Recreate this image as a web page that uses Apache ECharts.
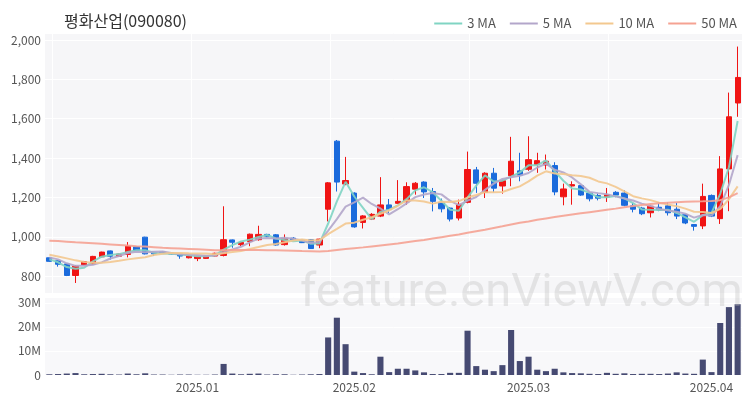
<!DOCTYPE html>
<html>
<head>
<meta charset="utf-8">
<script src="https://cdn.jsdelivr.net/npm/echarts@6/dist/echarts.min.js"></script>
<style>
html,body{margin:0;padding:0;background:#fff;}
#chart{width:750px;height:400px;}
</style>
</head>
<body>
<div id="chart"></div>
<script>
const dates = [
'2024-12-05','2024-12-06','2024-12-09','2024-12-10','2024-12-11','2024-12-12','2024-12-13','2024-12-16','2024-12-17','2024-12-18',
'2024-12-19','2024-12-20','2024-12-23','2024-12-24','2024-12-26','2024-12-27','2024-12-30',
'2025-01-02','2025-01-03','2025-01-06','2025-01-07','2025-01-08','2025-01-09','2025-01-10','2025-01-13','2025-01-14','2025-01-15',
'2025-01-16','2025-01-17','2025-01-20','2025-01-21','2025-01-22','2025-01-23','2025-01-24','2025-01-31',
'2025-02-03','2025-02-04','2025-02-05','2025-02-06','2025-02-07','2025-02-10','2025-02-11','2025-02-12','2025-02-13','2025-02-14',
'2025-02-17','2025-02-18','2025-02-19','2025-02-20','2025-02-21','2025-02-24','2025-02-25','2025-02-26','2025-02-27','2025-02-28',
'2025-03-03','2025-03-04','2025-03-05','2025-03-06','2025-03-07','2025-03-10','2025-03-11','2025-03-12','2025-03-13','2025-03-14',
'2025-03-17','2025-03-18','2025-03-19','2025-03-20','2025-03-21','2025-03-24','2025-03-25','2025-03-26','2025-03-27','2025-03-28','2025-03-31',
'2025-04-01','2025-04-02','2025-04-03','2025-04-04'
];
const opens = [893,878,862,803,857,862,898,928,901,910,950,998,921,922,918,913,893,889,890,902,
905,984,960,976,985,1012,1010,960,993,982,985,958,1140,1486,1268,1222,1073,1090,1105,1162,
1170,1178,1242,1278,1230,1175,1146,1095,1175,1340,1225,1323,1258,1310,1335,1343,1368,1365,1362,1203,
1258,1260,1222,1210,1202,1226,1222,1157,1146,1122,1150,1157,1140,1112,1062,1055,1210,1092,1345,1680];
const closes = [875,860,803,850,874,900,922,901,912,953,930,913,913,917,912,902,902,900,902,916,
985,972,971,1013,1012,1003,958,990,984,970,940,988,1274,1278,1286,1050,1106,1114,1162,1138,
1180,1255,1272,1228,1180,1142,1090,1165,1342,1272,1323,1247,1285,1384,1313,1392,1387,1384,1228,1243,
1265,1212,1193,1196,1213,1212,1160,1140,1117,1155,1136,1122,1105,1070,1053,1205,1105,1345,1610,1810];
const lows = [872,848,800,765,855,858,896,884,899,895,928,910,902,915,910,888,890,876,887,900,
900,944,952,952,980,998,955,955,980,968,938,942,1078,1230,1262,1046,1042,1085,1100,1121,
1168,1163,1214,1197,1129,1124,1078,1083,1170,1223,1197,1226,1219,1257,1282,1335,1325,1342,1211,1160,
1163,1208,1180,1185,1177,1201,1155,1124,1110,1098,1130,1108,1090,1064,1031,1039,1100,1065,1130,1610];
const highs = [895,880,864,855,877,903,924,930,914,973,953,1000,922,924,920,914,905,902,904,919,
1155,986,976,1016,1056,1015,1014,1012,998,984,987,990,1278,1492,1406,1226,1110,1120,1303,1192,
1288,1277,1278,1282,1248,1194,1150,1189,1433,1355,1328,1350,1290,1508,1427,1511,1427,1418,1379,1270,
1282,1262,1225,1220,1248,1232,1236,1172,1152,1160,1175,1175,1172,1115,1064,1270,1215,1410,1733,1967];
const volumesM = [0.3,0.4,0.6,0.8,0.3,0.4,0.5,0.3,0.2,0.6,0.3,0.7,0.2,0.2,0.1,0.2,0.2,0.1,0.1,0.2,
4.6,0.6,0.3,0.5,0.6,0.2,0.3,0.3,0.1,0.2,0.3,0.4,15.6,23.8,12.8,1.4,0.8,0.3,7.6,1.2,
2.6,2.6,1.9,1.1,0.4,0.4,0.9,0.9,18.4,3.7,2.2,1.6,4.1,18.7,5.8,7.6,2.2,1.6,2.6,1.1,
0.8,0.7,0.5,0.4,0.9,0.5,0.7,0.4,0.5,0.5,0.4,0.6,1.1,0.6,0.5,6.4,1.2,21.6,28.2,29.4];
// moving-average values before enough closes exist
const ma3Head = [885,870];
const ma5Head = [895,885,865,852];
const ma10Head = [908,900,890,880,872,868,868,872,878];
// 50-day MA
const ma50 = [980,978,975,972,970,967,964,961,958,955,952,950,947,944,942,940,938,936,934,931,
932,933,933,933,933,932,931,930,929,927,926,925,928,933,938,942,946,951,956,961,
966,972,978,984,991,998,1005,1012,1020,1028,1036,1045,1053,1062,1071,1078,1086,1093,1100,1107,
1113,1119,1125,1131,1137,1143,1150,1156,1161,1166,1170,1173,1176,1178,1179,1180,1182,1186,1200,1222];
const yTicksMain = [800,1000,1200,1400,1600,1800,2000];
const volTicks = ['0','10M','20M','30M'];

function movingAvg(n, head){
  return closes.map((c,i)=>{
    if(i < head.length) return head[i];
    let s = 0; for(let k=i-n+1;k<=i;k++) s += closes[k];
    return +(s/n).toFixed(1);
  });
}
const ma3 = movingAvg(3, ma3Head), ma5 = movingAvg(5, ma5Head), ma10 = movingAvg(10, ma10Head);
const candleData = dates.map((d,i)=>[opens[i],closes[i],lows[i],highs[i]]);
const volData = volumesM.map(v=>v*1e6);
function fmtNum(v){ return String(v).replace(/\B(?=(\d{3})+(?!\d))/g, ','); }

const FONT = '"Noto Sans CJK KR", "Noto Sans", sans-serif';
const chart = echarts.init(document.getElementById('chart'), null, {renderer:'canvas'});
const labelColor = '#555';
const option = {
  animation:false,
  backgroundColor:'#fff',
  textStyle:{fontFamily:FONT},
  title:{text:'평화산업(090080)', left:59, top:8, textStyle:{fontFamily:FONT, fontSize:16, fontWeight:'normal', color:'#333'}},
  legend:{
    right:8, top:12, itemWidth:28, itemHeight:2, itemGap:14, icon:'rect',
    textStyle:{fontFamily:FONT, fontSize:13, color:'#555'},
    data:['3 MA','5 MA','10 MA','50 MA']
  },
  graphic:[{
    type:'text', left:300, top:271, z:100, silent:true,
    style:{text:'feature.enViewV.com', font:'47px Roboto, sans-serif', fill:'rgba(185,185,185,0.33)'}
  }],
  grid:[
    {left:45, right:8, top:33, height:260, show:true, backgroundColor:'#f6f6f8', borderWidth:0},
    {left:45, right:8, top:297, height:78, show:true, backgroundColor:'#f8f8fa', borderWidth:0},
    {left:52, right:3, top:33, height:260}
  ],
  xAxis:[
    {type:'category', gridIndex:0, data:dates, boundaryGap:true, axisLine:{show:false}, axisTick:{show:false}, axisLabel:{show:false}, splitLine:{show:false}},
    {type:'category', gridIndex:1, data:dates, boundaryGap:true, axisLine:{show:false}, axisTick:{show:false},
      splitLine:{show:false},
      axisLabel:{fontFamily:FONT, fontSize:12, color:labelColor, margin:6,
        interval:(idx, val)=> idx>0 && dates[idx].slice(0,7)!==dates[idx-1].slice(0,7),
        formatter:(val)=> val.slice(0,4)+'.'+val.slice(5,7)}},
    {type:'value', gridIndex:2, min:0, max:5, interval:1, axisLine:{show:false}, axisTick:{show:false}, axisLabel:{show:false},
      splitLine:{show:true, lineStyle:{color:'#ffffff', width:1}}}
  ],
  yAxis:[
    {type:'value', gridIndex:0, min:714, max:2036, splitNumber:7, scale:true,
      axisLine:{show:false}, axisTick:{show:false},
      axisLabel:{fontFamily:FONT, fontSize:12, color:labelColor, margin:4, showMinLabel:false, showMaxLabel:false,
        formatter:(v)=> yTicksMain.indexOf(v)>=0 ? fmtNum(v) : ''},
      splitLine:{show:true, lineStyle:{color:'#ffffff', width:1}}},
    {type:'value', gridIndex:1, min:0, max:32.4e6, interval:10e6,
      axisLine:{show:false}, axisTick:{show:false},
      axisLabel:{fontFamily:FONT, fontSize:12, color:labelColor, margin:4, showMaxLabel:false,
        formatter:(v)=> { const i = Math.round(v/10e6); return (Math.abs(v - i*10e6)<1 && i<volTicks.length) ? volTicks[i] : ''; }},
      splitLine:{show:true, lineStyle:{color:'#ffffff', width:1}}},
    {type:'value', gridIndex:2, min:0, max:1, show:false, splitLine:{show:false}}
  ],
  series:[
    {type:'candlestick', name:'price', xAxisIndex:0, yAxisIndex:0, data:candleData, barWidth:'66%',
      itemStyle:{color:'#f01414', color0:'#1b6bdc', borderColor:'#f01414', borderColor0:'#1b6bdc', borderWidth:1}},
    {type:'line', name:'3 MA', data:ma3, xAxisIndex:0, yAxisIndex:0, showSymbol:false, symbol:'none', z:3,
      lineStyle:{color:'#80d4c3', width:2, opacity:0.9}, itemStyle:{color:'#80d4c3'}},
    {type:'line', name:'5 MA', data:ma5, xAxisIndex:0, yAxisIndex:0, showSymbol:false, symbol:'none', z:3,
      lineStyle:{color:'#b3a6ca', width:2, opacity:0.9}, itemStyle:{color:'#b3a6ca'}},
    {type:'line', name:'10 MA', data:ma10, xAxisIndex:0, yAxisIndex:0, showSymbol:false, symbol:'none', z:3,
      lineStyle:{color:'#f3c88f', width:2, opacity:0.9}, itemStyle:{color:'#f3c88f'}},
    {type:'line', name:'50 MA', data:ma50, xAxisIndex:0, yAxisIndex:0, showSymbol:false, symbol:'none', z:3,
      lineStyle:{color:'#f5a292', width:2, opacity:0.9}, itemStyle:{color:'#f5a292'}},
    {type:'bar', name:'volume', xAxisIndex:1, yAxisIndex:1, data:volData, barWidth:'70%',
      itemStyle:{color:'#464a72'}}
  ]
};
chart.setOption(option);
</script>
</body>
</html>
